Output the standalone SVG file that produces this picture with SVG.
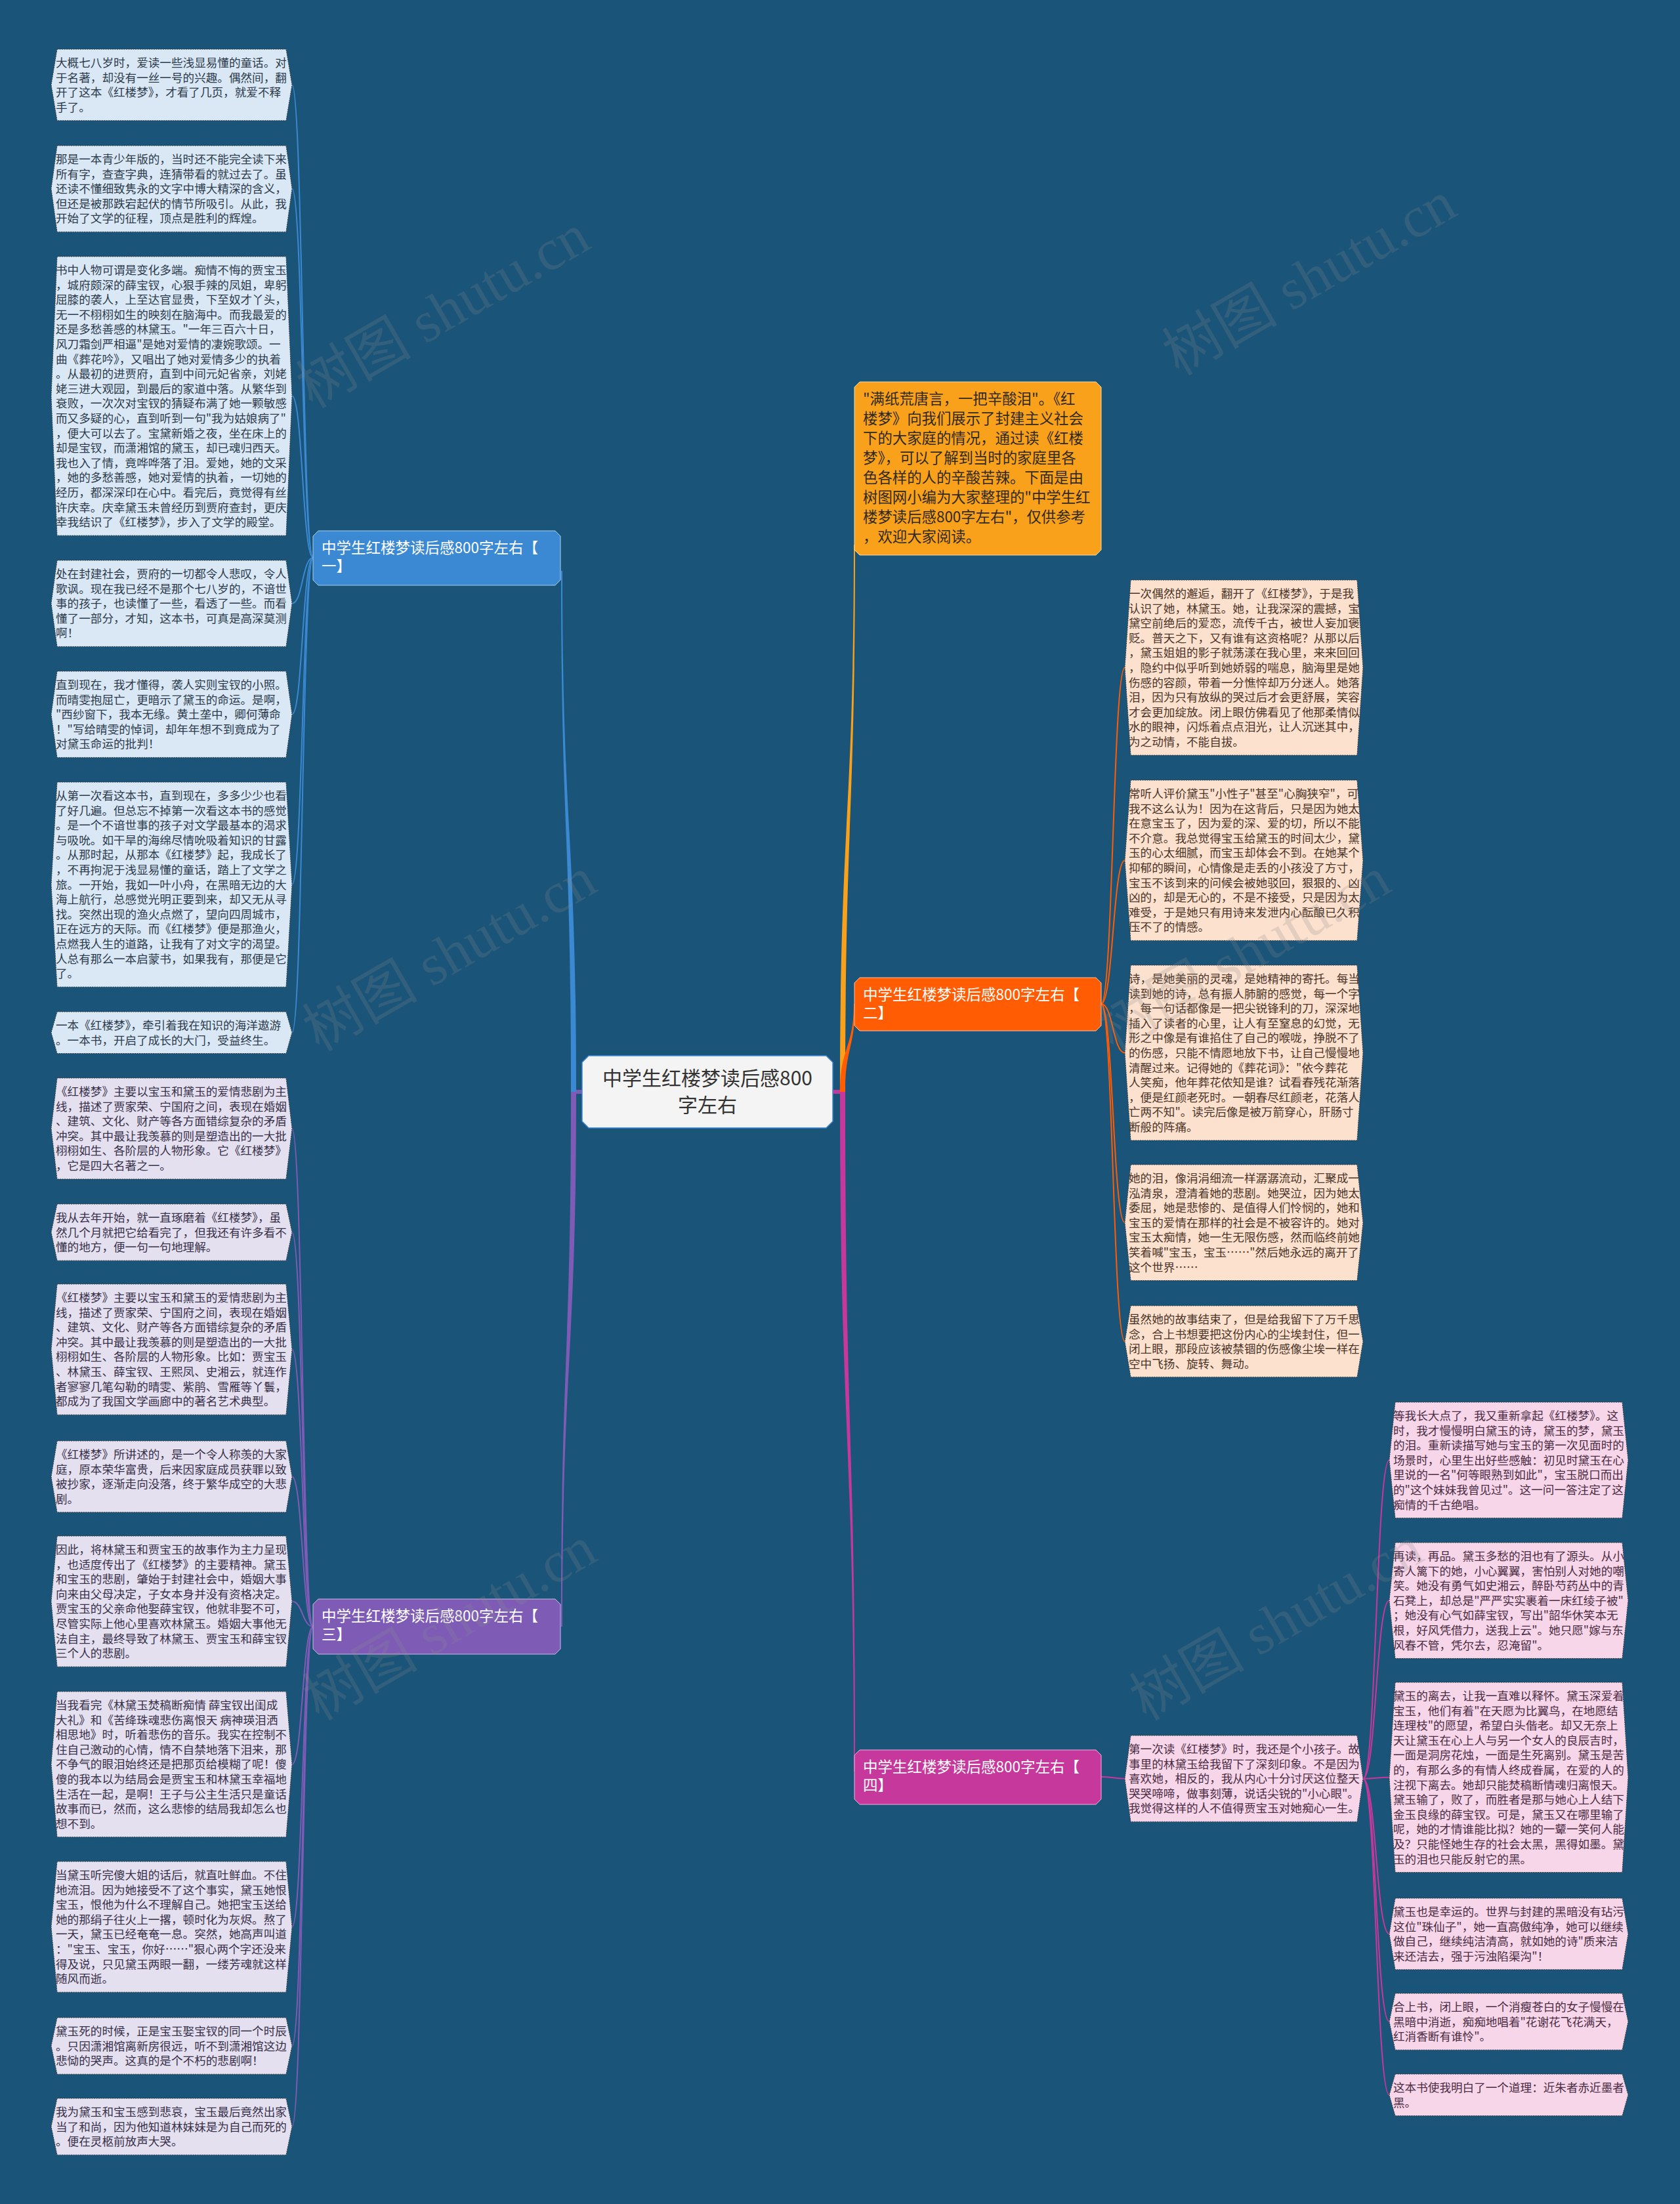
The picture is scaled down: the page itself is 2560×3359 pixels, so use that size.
<svg xmlns="http://www.w3.org/2000/svg" width="2560" height="3359" viewBox="0 0 2560 3359">
<style>
.leaf{stroke:#3a3a3a;stroke-width:1;stroke-dasharray:2 1.5}
.l1{fill:#dae8f6}.l2{fill:#fde1cf}.l3{fill:#e5e0f0}.l4{fill:#f7d6ea}
.tx{font-family:"Noto Sans CJK SC","Noto Sans",sans-serif;font-size:17.6px}
.k1{fill:#2c3b4b}.k2{fill:#4a3528}.k3{fill:#373049}.k4{fill:#4a2c42}
.br{font-family:"Noto Sans CJK SC","Noto Sans",sans-serif;font-size:22.5px;fill:#ffffff}
.thin{fill:none;stroke-width:2}
.wm{font-family:"Liberation Serif","Noto Sans CJK SC",serif;font-size:88px;fill:#8a8a8a;opacity:0.22}
</style>
<rect x="0" y="0" width="2560" height="3359" fill="#1a5478"/>

<g id="connectors">
  <!-- main tapered connectors -->
  <path d="M871,1661 H887 V1667 H871 Z" fill="#7e5cb6"/>
  <path d="M1269,1661 H1286 V1667 H1269 Z" fill="#c6389b"/>
  <path d="M870,1664 C870,1267 855,1267 855,870 L857,870 C857,1267 878,1267 878,1664 Z" fill="#3b89d2"/>
  <path d="M870,1664 C870,2071 855,2071 855,2479 L857,2479 C857,2071 878,2071 878,1664 Z" fill="#7e5cb6"/>
  <path d="M1280,1664 C1280,1247 1301,1247 1301,830 L1303,830 C1303,1247 1288,1247 1288,1664 Z" fill="#f9a11b"/>
  <path d="M1280,1664 C1280,1597 1301,1597 1301,1530 L1303,1530 C1303,1597 1288,1597 1288,1664 Z" fill="#ff5c03"/>
  <path d="M1280,1664 C1280,2182 1301,2182 1301,2700 L1303,2700 C1303,2182 1288,2182 1288,1664 Z" fill="#c6389b"/>
  <!-- branch 1 to leaves -->
  <g class="thin" stroke="#3b89d2">
    <path d="M477,850 C461,850 461,129.4 445,129.4"/>
    <path d="M477,850 C461,850 461,287.7 445,287.7"/>
    <path d="M477,850 C461,850 461,603.6 445,603.6"/>
    <path d="M477,850 C461,850 461,919.7 445,919.7"/>
    <path d="M477,850 C461,850 461,1088.7 445,1088.7"/>
    <path d="M477,850 C461,850 461,1348.1 445,1348.1"/>
    <path d="M477,850 C461,850 461,1573.8 445,1573.8"/>
  </g>
  <!-- branch 3 to leaves -->
  <g class="thin" stroke="#7e5cb6">
    <path d="M477,2479 C461,2479 461,1720 445,1720"/>
    <path d="M477,2479 C461,2479 461,1878.1 445,1878.1"/>
    <path d="M477,2479 C461,2479 461,2056.6 445,2056.6"/>
    <path d="M477,2479 C461,2479 461,2250.4 445,2250.4"/>
    <path d="M477,2479 C461,2479 461,2440.6 445,2440.6"/>
    <path d="M477,2479 C461,2479 461,2688.9 445,2688.9"/>
    <path d="M477,2479 C461,2479 461,2936.6 445,2936.6"/>
    <path d="M477,2479 C461,2479 461,3118.1 445,3118.1"/>
    <path d="M477,2479 C461,2479 461,3241.1 445,3241.1"/>
  </g>
  <!-- branch 2 to leaves -->
  <g class="thin" stroke="#ff5c03">
    <path d="M1678,1530 C1696,1530 1696,1017.5 1714,1017.5"/>
    <path d="M1678,1530 C1696,1530 1696,1311.2 1714,1311.2"/>
    <path d="M1678,1530 C1696,1530 1696,1604.5 1714,1604.5"/>
    <path d="M1678,1530 C1696,1530 1696,1863.3 1714,1863.3"/>
    <path d="M1678,1530 C1696,1530 1696,2044.4 1714,2044.4"/>
  </g>
  <!-- branch 4 -->
  <g class="thin" stroke="#c6389b">
    <path d="M1678,2708 C1696,2708 1696,2710.7 1714,2710.7"/>
    <path d="M2077,2710.7 C2097,2710.7 2097,2225.3 2117,2225.3"/>
    <path d="M2077,2710.7 C2097,2710.7 2097,2439.3 2117,2439.3"/>
    <path d="M2077,2710.7 C2097,2710.7 2097,2708.8 2117,2708.8"/>
    <path d="M2077,2710.7 C2097,2710.7 2097,2947.4 2117,2947.4"/>
    <path d="M2077,2710.7 C2097,2710.7 2097,3081.1 2117,3081.1"/>
    <path d="M2077,2710.7 C2097,2710.7 2097,3192.8 2117,3192.8"/>
  </g>
</g>

<g id="center">
  <path d="M897,1609 H1259 L1269,1619 V1709 L1259,1719 H897 L887,1709 V1619 Z" fill="#f4f4f4" stroke="#3b89d2" stroke-width="1.5"/>
  <text x="1078" y="1654" text-anchor="middle" font-family="Noto Sans CJK SC, sans-serif" font-size="30" fill="#333333">中学生红楼梦读后感800</text>
  <text x="1078" y="1695" text-anchor="middle" font-family="Noto Sans CJK SC, sans-serif" font-size="30" fill="#333333">字左右</text>
</g>

<g id="intro">
  <path d="M1310,582 H1670 L1678,590 V838 L1670,846 H1310 L1302,838 V590 Z" fill="#f9a11b" stroke="#f3d9a8" stroke-width="1"/>
  <text class="tx" style="font-size:22.4px" fill="#2f2a20" x="1315" y="616">
    <tspan x="1315">"满纸荒唐言，一把辛酸泪"。《红</tspan>
    <tspan x="1315" dy="30">楼梦》向我们展示了封建主义社会</tspan>
    <tspan x="1315" dy="30">下的大家庭的情况，通过读《红楼</tspan>
    <tspan x="1315" dy="30">梦》，可以了解到当时的家庭里各</tspan>
    <tspan x="1315" dy="30">色各样的人的辛酸苦辣。下面是由</tspan>
    <tspan x="1315" dy="30">树图网小编为大家整理的"中学生红</tspan>
    <tspan x="1315" dy="30">楼梦读后感800字左右"，仅供参考</tspan>
    <tspan x="1315" dy="30">，欢迎大家阅读。</tspan>
  </text>
</g>

<g id="branch1">
  <path d="M485,809 H846 L854,817 V884 L846,892 H485 L477,884 V817 Z" fill="#3b89d2" stroke="#a9cdf0" stroke-width="1"/>
  <text class="br" x="490" y="843">中学生红楼梦读后感800字左右【</text>
  <text class="br" x="490" y="871">一】</text>
</g>
<g id="branch2">
  <path d="M1310,1490 H1670 L1678,1498 V1563 L1670,1571 H1310 L1302,1563 V1498 Z" fill="#ff5c03" stroke="#ffc09a" stroke-width="1"/>
  <text class="br" x="1315" y="1524">中学生红楼梦读后感800字左右【</text>
  <text class="br" x="1315" y="1552">二】</text>
</g>
<g id="branch3">
  <path d="M485,2437 H846 L854,2445 V2513 L846,2521 H485 L477,2513 V2445 Z" fill="#7e5cb6" stroke="#c9b8e6" stroke-width="1"/>
  <text class="br" x="490" y="2471">中学生红楼梦读后感800字左右【</text>
  <text class="br" x="490" y="2499">三】</text>
</g>
<g id="branch4">
  <path d="M1310,2667 H1670 L1678,2675 V2742 L1670,2750 H1310 L1302,2742 V2675 Z" fill="#c6389b" stroke="#eeb0dc" stroke-width="1"/>
  <text class="br" x="1315" y="2701">中学生红楼梦读后感800字左右【</text>
  <text class="br" x="1315" y="2729">四】</text>
</g>

<!-- Branch 1 leaves -->
<g id="l1-1">
  <polygon class="leaf l1" points="87,75 436,75 445,129.4 436,183.8 87,183.8 78,129.4"/>
  <text class="tx k1" x="85" y="102"><tspan x="85">大概七八岁时，爱读一些浅显易懂的童话。对</tspan><tspan x="85" dy="22.6">于名著，却没有一丝一号的兴趣。偶然间，翻</tspan><tspan x="85" dy="22.6">开了这本《红楼梦》，才看了几页，就爱不释</tspan><tspan x="85" dy="22.6">手了。</tspan></text>
</g>
<g id="l1-2">
  <polygon class="leaf l1" points="87,222 436,222 445,287.7 436,353.4 87,353.4 78,287.7"/>
  <text class="tx k1" x="85" y="249"><tspan x="85">那是一本青少年版的，当时还不能完全读下来</tspan><tspan x="85" dy="22.6">所有字，查查字典，连猜带看的就过去了。虽</tspan><tspan x="85" dy="22.6">还读不懂细致隽永的文字中博大精深的含义，</tspan><tspan x="85" dy="22.6">但还是被那跌宕起伏的情节所吸引。从此，我</tspan><tspan x="85" dy="22.6">开始了文学的征程，顶点是胜利的辉煌。</tspan></text>
</g>
<g id="l1-3">
  <polygon class="leaf l1" points="87,391 436,391 445,603.6 436,816.2 87,816.2 78,603.6"/>
  <text class="tx k1" x="85" y="418"><tspan x="85">书中人物可谓是变化多端。痴情不悔的贾宝玉</tspan><tspan x="85" dy="22.6">，城府颇深的薛宝钗，心狠手辣的凤姐，卑躬</tspan><tspan x="85" dy="22.6">屈膝的袭人，上至达官显贵，下至奴才丫头，</tspan><tspan x="85" dy="22.6">无一不栩栩如生的映刻在脑海中。而我最爱的</tspan><tspan x="85" dy="22.6">还是多愁善感的林黛玉。"一年三百六十日，</tspan><tspan x="85" dy="22.6">风刀霜剑严相逼"是她对爱情的凄婉歌颂。一</tspan><tspan x="85" dy="22.6">曲《葬花吟》，又唱出了她对爱情多少的执着</tspan><tspan x="85" dy="22.6">。从最初的进贾府，直到中间元妃省亲，刘姥</tspan><tspan x="85" dy="22.6">姥三进大观园，到最后的家道中落。从繁华到</tspan><tspan x="85" dy="22.6">衰败，一次次对宝钗的猜疑布满了她一颗敏感</tspan><tspan x="85" dy="22.6">而又多疑的心，直到听到一句"我为姑娘病了"</tspan><tspan x="85" dy="22.6">，便大可以去了。宝黛新婚之夜，坐在床上的</tspan><tspan x="85" dy="22.6">却是宝钗，而潇湘馆的黛玉，却已魂归西天。</tspan><tspan x="85" dy="22.6">我也入了情，竟哗哗落了泪。爱她，她的文采</tspan><tspan x="85" dy="22.6">，她的多愁善感，她对爱情的执着，一切她的</tspan><tspan x="85" dy="22.6">经历，都深深印在心中。看完后，竟觉得有丝</tspan><tspan x="85" dy="22.6">许庆幸。庆幸黛玉未曾经历到贾府查封，更庆</tspan><tspan x="85" dy="22.6">幸我结识了《红楼梦》，步入了文学的殿堂。</tspan></text>
</g>
<g id="l1-4">
  <polygon class="leaf l1" points="87,854 436,854 445,919.7 436,985.4 87,985.4 78,919.7"/>
  <text class="tx k1" x="85" y="881"><tspan x="85">处在封建社会，贾府的一切都令人悲叹，令人</tspan><tspan x="85" dy="22.6">歌讽。现在我已经不是那个七八岁的，不谙世</tspan><tspan x="85" dy="22.6">事的孩子，也读懂了一些，看透了一些。而看</tspan><tspan x="85" dy="22.6">懂了一部分，才知，这本书，可真是高深莫测</tspan><tspan x="85" dy="22.6">啊！</tspan></text>
</g>
<g id="l1-5">
  <polygon class="leaf l1" points="87,1023 436,1023 445,1088.7 436,1154.4 87,1154.4 78,1088.7"/>
  <text class="tx k1" x="85" y="1050"><tspan x="85">直到现在，我才懂得，袭人实则宝钗的小照。</tspan><tspan x="85" dy="22.6">而晴雯抱屈亡，更暗示了黛玉的命运。是啊，</tspan><tspan x="85" dy="22.6">"西纱窗下，我本无缘。黄土垄中，卿何薄命</tspan><tspan x="85" dy="22.6">！"写给晴雯的悼词，却年年想不到竟成为了</tspan><tspan x="85" dy="22.6">对黛玉命运的批判！</tspan></text>
</g>
<g id="l1-6">
  <polygon class="leaf l1" points="87,1192 436,1192 445,1348.1 436,1504.2 87,1504.2 78,1348.1"/>
  <text class="tx k1" x="85" y="1219"><tspan x="85">从第一次看这本书，直到现在，多多少少也看</tspan><tspan x="85" dy="22.6">了好几遍。但总忘不掉第一次看这本书的感觉</tspan><tspan x="85" dy="22.6">。是一个不谙世事的孩子对文学最基本的渴求</tspan><tspan x="85" dy="22.6">与吸吮。如干旱的海绵尽情吮吸着知识的甘露</tspan><tspan x="85" dy="22.6">。从那时起，从那本《红楼梦》起，我成长了</tspan><tspan x="85" dy="22.6">，不再拘泥于浅显易懂的童话，踏上了文学之</tspan><tspan x="85" dy="22.6">旅。一开始，我如一叶小舟，在黑暗无边的大</tspan><tspan x="85" dy="22.6">海上航行，总感觉光明正要到来，却又无从寻</tspan><tspan x="85" dy="22.6">找。突然出现的渔火点燃了，望向四周城市，</tspan><tspan x="85" dy="22.6">正在远方的天际。而《红楼梦》便是那渔火，</tspan><tspan x="85" dy="22.6">点燃我人生的道路，让我有了对文字的渴望。</tspan><tspan x="85" dy="22.6">人总有那么一本启蒙书，如果我有，那便是它</tspan><tspan x="85" dy="22.6">了。</tspan></text>
</g>
<g id="l1-7">
  <polygon class="leaf l1" points="87,1542 436,1542 445,1573.8 436,1605.6 87,1605.6 78,1573.8"/>
  <text class="tx k1" x="85" y="1569"><tspan x="85">一本《红楼梦》，牵引着我在知识的海洋遨游</tspan><tspan x="85" dy="22.6">。一本书，开启了成长的大门，受益终生。</tspan></text>
</g>

<!-- Branch 3 leaves -->
<g id="l3-1">
  <polygon class="leaf l3" points="87,1643 436,1643 445,1720 436,1797 87,1797 78,1720"/>
  <text class="tx k3" x="85" y="1670"><tspan x="85">《红楼梦》主要以宝玉和黛玉的爱情悲剧为主</tspan><tspan x="85" dy="22.6">线，描述了贾家荣、宁国府之间，表现在婚姻</tspan><tspan x="85" dy="22.6">、建筑、文化、财产等各方面错综复杂的矛盾</tspan><tspan x="85" dy="22.6">冲突。其中最让我羡慕的则是塑造出的一大批</tspan><tspan x="85" dy="22.6">栩栩如生、各阶层的人物形象。它《红楼梦》</tspan><tspan x="85" dy="22.6">，它是四大名著之一。</tspan></text>
</g>
<g id="l3-2">
  <polygon class="leaf l3" points="87,1835 436,1835 445,1878.1 436,1921.2 87,1921.2 78,1878.1"/>
  <text class="tx k3" x="85" y="1862"><tspan x="85">我从去年开始，就一直琢磨着《红楼梦》，虽</tspan><tspan x="85" dy="22.6">然几个月就把它给看完了，但我还有许多看不</tspan><tspan x="85" dy="22.6">懂的地方，便一句一句地理解。</tspan></text>
</g>
<g id="l3-3">
  <polygon class="leaf l3" points="87,1957 436,1957 445,2056.6 436,2156.2 87,2156.2 78,2056.6"/>
  <text class="tx k3" x="85" y="1984"><tspan x="85">《红楼梦》主要以宝玉和黛玉的爱情悲剧为主</tspan><tspan x="85" dy="22.6">线，描述了贾家荣、宁国府之间，表现在婚姻</tspan><tspan x="85" dy="22.6">、建筑、文化、财产等各方面错综复杂的矛盾</tspan><tspan x="85" dy="22.6">冲突。其中最让我羡慕的则是塑造出的一大批</tspan><tspan x="85" dy="22.6">栩栩如生、各阶层的人物形象。比如：贾宝玉</tspan><tspan x="85" dy="22.6">、林黛玉、薛宝钗、王熙凤、史湘云，就连作</tspan><tspan x="85" dy="22.6">者寥寥几笔勾勒的晴雯、紫鹃、雪雁等丫鬟，</tspan><tspan x="85" dy="22.6">都成为了我国文学画廊中的著名艺术典型。</tspan></text>
</g>
<g id="l3-4">
  <polygon class="leaf l3" points="87,2196 436,2196 445,2250.4 436,2304.8 87,2304.8 78,2250.4"/>
  <text class="tx k3" x="85" y="2223"><tspan x="85">《红楼梦》所讲述的，是一个令人称羡的大家</tspan><tspan x="85" dy="22.6">庭，原本荣华富贵，后来因家庭成员获罪以致</tspan><tspan x="85" dy="22.6">被抄家，逐渐走向没落，终于繁华成空的大悲</tspan><tspan x="85" dy="22.6">剧。</tspan></text>
</g>
<g id="l3-5">
  <polygon class="leaf l3" points="87,2341 436,2341 445,2440.6 436,2540.2 87,2540.2 78,2440.6"/>
  <text class="tx k3" x="85" y="2368"><tspan x="85">因此，将林黛玉和贾宝玉的故事作为主力呈现</tspan><tspan x="85" dy="22.6">，也适度传出了《红楼梦》的主要精神。黛玉</tspan><tspan x="85" dy="22.6">和宝玉的悲剧，肇始于封建社会中，婚姻大事</tspan><tspan x="85" dy="22.6">向来由父母决定，子女本身并没有资格决定。</tspan><tspan x="85" dy="22.6">贾宝玉的父亲命他娶薛宝钗，他就非娶不可，</tspan><tspan x="85" dy="22.6">尽管实际上他心里喜欢林黛玉。婚姻大事他无</tspan><tspan x="85" dy="22.6">法自主，最终导致了林黛玉、贾宝玉和薛宝钗</tspan><tspan x="85" dy="22.6">三个人的悲剧。</tspan></text>
</g>
<g id="l3-6">
  <polygon class="leaf l3" points="87,2578 436,2578 445,2688.9 436,2799.8 87,2799.8 78,2688.9"/>
  <text class="tx k3" x="85" y="2605"><tspan x="85">当我看完《林黛玉焚稿断痴情 薛宝钗出闺成</tspan><tspan x="85" dy="22.6">大礼》和《苦绛珠魂悲伤离恨天 病神瑛泪洒</tspan><tspan x="85" dy="22.6">相思地》时，听着悲伤的音乐。我实在控制不</tspan><tspan x="85" dy="22.6">住自己激动的心情，情不自禁地落下泪来，那</tspan><tspan x="85" dy="22.6">不争气的眼泪始终还是把那页给模糊了呢！傻</tspan><tspan x="85" dy="22.6">傻的我本以为结局会是贾宝玉和林黛玉幸福地</tspan><tspan x="85" dy="22.6">生活在一起，是啊！王子与公主生活只是童话</tspan><tspan x="85" dy="22.6">故事而已，然而，这么悲惨的结局我却怎么也</tspan><tspan x="85" dy="22.6">想不到。</tspan></text>
</g>
<g id="l3-7">
  <polygon class="leaf l3" points="87,2837 436,2837 445,2936.6 436,3036.2 87,3036.2 78,2936.6"/>
  <text class="tx k3" x="85" y="2864"><tspan x="85">当黛玉听完傻大姐的话后，就直吐鲜血。不住</tspan><tspan x="85" dy="22.6">地流泪。因为她接受不了这个事实，黛玉她恨</tspan><tspan x="85" dy="22.6">宝玉，恨他为什么不理解自己。她把宝玉送给</tspan><tspan x="85" dy="22.6">她的那绢子往火上一撂，顿时化为灰烬。熬了</tspan><tspan x="85" dy="22.6">一天，黛玉已经奄奄一息。突然，她高声叫道</tspan><tspan x="85" dy="22.6">："宝玉、宝玉，你好……"狠心两个字还没来</tspan><tspan x="85" dy="22.6">得及说，只见黛玉两眼一翻，一缕芳魂就这样</tspan><tspan x="85" dy="22.6">随风而逝。</tspan></text>
</g>
<g id="l3-8">
  <polygon class="leaf l3" points="87,3075 436,3075 445,3118.1 436,3161.2 87,3161.2 78,3118.1"/>
  <text class="tx k3" x="85" y="3102"><tspan x="85">黛玉死的时候，正是宝玉娶宝钗的同一个时辰</tspan><tspan x="85" dy="22.6">。只因潇湘馆离新房很远，听不到潇湘馆这边</tspan><tspan x="85" dy="22.6">悲恸的哭声。这真的是个不朽的悲剧啊！</tspan></text>
</g>
<g id="l3-9">
  <polygon class="leaf l3" points="87,3198 436,3198 445,3241.1 436,3284.2 87,3284.2 78,3241.1"/>
  <text class="tx k3" x="85" y="3225"><tspan x="85">我为黛玉和宝玉感到悲哀，宝玉最后竟然出家</tspan><tspan x="85" dy="22.6">当了和尚，因为他知道林妹妹是为自己而死的</tspan><tspan x="85" dy="22.6">。便在灵柩前放声大哭。</tspan></text>
</g>

<!-- Branch 2 leaves -->
<g id="l2-1">
  <polygon class="leaf l2" points="1723,884 2068,884 2077,1017.5 2068,1151 1723,1151 1714,1017.5"/>
  <text class="tx k2" x="1720" y="911"><tspan x="1720">一次偶然的邂逅，翻开了《红楼梦》，于是我</tspan><tspan x="1720" dy="22.6">认识了她，林黛玉。她，让我深深的震撼，宝</tspan><tspan x="1720" dy="22.6">黛空前绝后的爱恋，流传千古，被世人妄加褒</tspan><tspan x="1720" dy="22.6">贬。普天之下，又有谁有这资格呢？从那以后</tspan><tspan x="1720" dy="22.6">，黛玉姐姐的影子就荡漾在我心里，来来回回</tspan><tspan x="1720" dy="22.6">，隐约中似乎听到她娇弱的喘息，脑海里是她</tspan><tspan x="1720" dy="22.6">伤感的容颜，带着一分憔悴却万分迷人。她落</tspan><tspan x="1720" dy="22.6">泪，因为只有放纵的哭过后才会更舒展，笑容</tspan><tspan x="1720" dy="22.6">才会更加绽放。闭上眼仿佛看见了他那柔情似</tspan><tspan x="1720" dy="22.6">水的眼神，闪烁着点点泪光，让人沉迷其中，</tspan><tspan x="1720" dy="22.6">为之动情，不能自拔。</tspan></text>
</g>
<g id="l2-2">
  <polygon class="leaf l2" points="1723,1189 2068,1189 2077,1311.2 2068,1433.4 1723,1433.4 1714,1311.2"/>
  <text class="tx k2" x="1720" y="1216"><tspan x="1720">常听人评价黛玉"小性子"甚至"心胸狭窄"，可</tspan><tspan x="1720" dy="22.6">我不这么认为！因为在这背后，只是因为她太</tspan><tspan x="1720" dy="22.6">在意宝玉了，因为爱的深、爱的切，所以不能</tspan><tspan x="1720" dy="22.6">不介意。我总觉得宝玉给黛玉的时间太少，黛</tspan><tspan x="1720" dy="22.6">玉的心太细腻，而宝玉却体会不到。在她某个</tspan><tspan x="1720" dy="22.6">抑郁的瞬间，心情像是走丢的小孩没了方寸，</tspan><tspan x="1720" dy="22.6">宝玉不该到来的问候会被她驳回，狠狠的、凶</tspan><tspan x="1720" dy="22.6">凶的，却是无心的，不是不接受，只是因为太</tspan><tspan x="1720" dy="22.6">难受，于是她只有用诗来发泄内心酝酿已久积</tspan><tspan x="1720" dy="22.6">压不了的情感。</tspan></text>
</g>
<g id="l2-3">
  <polygon class="leaf l2" points="1723,1471 2068,1471 2077,1604.5 2068,1738 1723,1738 1714,1604.5"/>
  <text class="tx k2" x="1720" y="1498"><tspan x="1720">诗，是她美丽的灵魂，是她精神的寄托。每当</tspan><tspan x="1720" dy="22.6">读到她的诗，总有振人肺腑的感觉，每一个字</tspan><tspan x="1720" dy="22.6">，每一句话都像是一把尖锐锋利的刀，深深地</tspan><tspan x="1720" dy="22.6">插入了读者的心里，让人有至窒息的幻觉，无</tspan><tspan x="1720" dy="22.6">形之中像是有谁掐住了自己的喉咙，挣脱不了</tspan><tspan x="1720" dy="22.6">的伤感，只能不情愿地放下书，让自己慢慢地</tspan><tspan x="1720" dy="22.6">清醒过来。记得她的《葬花词》："依今葬花</tspan><tspan x="1720" dy="22.6">人笑痴，他年葬花侬知是谁？试看春残花渐落</tspan><tspan x="1720" dy="22.6">，便是红颜老死时。一朝春尽红颜老，花落人</tspan><tspan x="1720" dy="22.6">亡两不知"。读完后像是被万箭穿心，肝肠寸</tspan><tspan x="1720" dy="22.6">断般的阵痛。</tspan></text>
</g>
<g id="l2-4">
  <polygon class="leaf l2" points="1723,1775 2068,1775 2077,1863.3 2068,1951.6 1723,1951.6 1714,1863.3"/>
  <text class="tx k2" x="1720" y="1802"><tspan x="1720">她的泪，像涓涓细流一样潺潺流动，汇聚成一</tspan><tspan x="1720" dy="22.6">泓清泉，澄清着她的悲剧。她哭泣，因为她太</tspan><tspan x="1720" dy="22.6">委屈，她是悲惨的、是值得人们怜悯的，她和</tspan><tspan x="1720" dy="22.6">宝玉的爱情在那样的社会是不被容许的。她对</tspan><tspan x="1720" dy="22.6">宝玉太痴情，她一生无限伤感，然而临终前她</tspan><tspan x="1720" dy="22.6">笑着喊"宝玉，宝玉……"然后她永远的离开了</tspan><tspan x="1720" dy="22.6">这个世界……</tspan></text>
</g>
<g id="l2-5">
  <polygon class="leaf l2" points="1723,1990 2068,1990 2077,2044.4 2068,2098.8 1723,2098.8 1714,2044.4"/>
  <text class="tx k2" x="1720" y="2017"><tspan x="1720">虽然她的故事结束了，但是给我留下了万千思</tspan><tspan x="1720" dy="22.6">念，合上书想要把这份内心的尘埃封住，但一</tspan><tspan x="1720" dy="22.6">闭上眼，那段应该被禁锢的伤感像尘埃一样在</tspan><tspan x="1720" dy="22.6">空中飞扬、旋转、舞动。</tspan></text>
</g>

<!-- Branch 4 -->
<g id="p4-0">
  <polygon class="leaf l4" points="1723,2645 2068,2645 2077,2710.7 2068,2776.4 1723,2776.4 1714,2710.7"/>
  <text class="tx k4" x="1720" y="2672"><tspan x="1720">第一次读《红楼梦》时，我还是个小孩子。故</tspan><tspan x="1720" dy="22.6">事里的林黛玉给我留下了深刻印象。不是因为</tspan><tspan x="1720" dy="22.6">喜欢她，相反的，我从内心十分讨厌这位整天</tspan><tspan x="1720" dy="22.6">哭哭啼啼，做事刻薄，说话尖锐的"小心眼"。</tspan><tspan x="1720" dy="22.6">我觉得这样的人不值得贾宝玉对她痴心一生。</tspan></text>
</g>
<g id="l4-1">
  <polygon class="leaf l4" points="2126,2137 2472,2137 2481,2225.3 2472,2313.6 2126,2313.6 2117,2225.3"/>
  <text class="tx k4" x="2123" y="2164"><tspan x="2123">等我长大点了，我又重新拿起《红楼梦》。这</tspan><tspan x="2123" dy="22.6">时，我才慢慢明白黛玉的诗，黛玉的梦，黛玉</tspan><tspan x="2123" dy="22.6">的泪。重新读描写她与宝玉的第一次见面时的</tspan><tspan x="2123" dy="22.6">场景时，心里生出好些感触：初见时黛玉在心</tspan><tspan x="2123" dy="22.6">里说的一名"何等眼熟到如此"，宝玉脱口而出</tspan><tspan x="2123" dy="22.6">的"这个妹妹我曾见过"。这一问一答注定了这</tspan><tspan x="2123" dy="22.6">痴情的千古绝唱。</tspan></text>
</g>
<g id="l4-2">
  <polygon class="leaf l4" points="2126,2351 2472,2351 2481,2439.3 2472,2527.6 2126,2527.6 2117,2439.3"/>
  <text class="tx k4" x="2123" y="2378"><tspan x="2123">再读，再品。黛玉多愁的泪也有了源头。从小</tspan><tspan x="2123" dy="22.6">寄人篱下的她，小心翼翼，害怕别人对她的嘲</tspan><tspan x="2123" dy="22.6">笑。她没有勇气如史湘云，醉卧芍药丛中的青</tspan><tspan x="2123" dy="22.6">石凳上，却总是"严严实实裹着一床红绫子被"</tspan><tspan x="2123" dy="22.6">；她没有心气如薛宝钗，写出"韶华休笑本无</tspan><tspan x="2123" dy="22.6">根，好风凭借力，送我上云"。她只愿"嫁与东</tspan><tspan x="2123" dy="22.6">风春不管，凭尔去，忍淹留"。</tspan></text>
</g>
<g id="l4-3">
  <polygon class="leaf l4" points="2126,2564 2472,2564 2481,2708.8 2472,2853.6 2126,2853.6 2117,2708.8"/>
  <text class="tx k4" x="2123" y="2591"><tspan x="2123">黛玉的离去，让我一直难以释怀。黛玉深爱着</tspan><tspan x="2123" dy="22.6">宝玉，他们有着"在天愿为比翼鸟，在地愿结</tspan><tspan x="2123" dy="22.6">连理枝"的愿望，希望白头偕老。却又无奈上</tspan><tspan x="2123" dy="22.6">天让黛玉在心上人与另一个女人的良辰吉时，</tspan><tspan x="2123" dy="22.6">一面是洞房花烛，一面是生死离别。黛玉是苦</tspan><tspan x="2123" dy="22.6">的，有那么多的有情人终成眷属，在爱的人的</tspan><tspan x="2123" dy="22.6">注视下离去。她却只能焚稿断情魂归离恨天。</tspan><tspan x="2123" dy="22.6">黛玉输了，败了，而胜者是那与她心上人结下</tspan><tspan x="2123" dy="22.6">金玉良缘的薛宝钗。可是，黛玉又在哪里输了</tspan><tspan x="2123" dy="22.6">呢，她的才情谁能比拟？她的一颦一笑何人能</tspan><tspan x="2123" dy="22.6">及？只能怪她生存的社会太黑，黑得如墨。黛</tspan><tspan x="2123" dy="22.6">玉的泪也只能反射它的黑。</tspan></text>
</g>
<g id="l4-4">
  <polygon class="leaf l4" points="2126,2893 2472,2893 2481,2947.4 2472,3001.8 2126,3001.8 2117,2947.4"/>
  <text class="tx k4" x="2123" y="2920"><tspan x="2123">黛玉也是幸运的。世界与封建的黑暗没有玷污</tspan><tspan x="2123" dy="22.6">这位"珠仙子"，她一直高傲纯净，她可以继续</tspan><tspan x="2123" dy="22.6">做自己，继续纯洁清高，就如她的诗"质来洁</tspan><tspan x="2123" dy="22.6">来还洁去，强于污浊陷渠沟"！</tspan></text>
</g>
<g id="l4-5">
  <polygon class="leaf l4" points="2126,3038 2472,3038 2481,3081.1 2472,3124.2 2126,3124.2 2117,3081.1"/>
  <text class="tx k4" x="2123" y="3065"><tspan x="2123">合上书，闭上眼，一个消瘦苍白的女子慢慢在</tspan><tspan x="2123" dy="22.6">黑暗中消逝，痴痴地唱着"花谢花飞花满天，</tspan><tspan x="2123" dy="22.6">红消香断有谁怜"。</tspan></text>
</g>
<g id="l4-6">
  <polygon class="leaf l4" points="2126,3161 2472,3161 2481,3192.8 2472,3224.6 2126,3224.6 2117,3192.8"/>
  <text class="tx k4" x="2123" y="3188"><tspan x="2123">这本书使我明白了一个道理：近朱者赤近墨者</tspan><tspan x="2123" dy="22.6">黑。</tspan></text>
</g>

<g id="watermarks">
  <text class="wm" x="690" y="500" text-anchor="middle" transform="rotate(-30 690 500)">树图 shutu.cn</text>
  <text class="wm" x="700" y="1480" text-anchor="middle" transform="rotate(-30 700 1480)">树图 shutu.cn</text>
  <text class="wm" x="700" y="2500" text-anchor="middle" transform="rotate(-30 700 2500)">树图 shutu.cn</text>
  <text class="wm" x="2010" y="450" text-anchor="middle" transform="rotate(-30 2010 450)">树图 shutu.cn</text>
  <text class="wm" x="1910" y="1480" text-anchor="middle" transform="rotate(-30 1910 1480)">树图 shutu.cn</text>
  <text class="wm" x="1960" y="2500" text-anchor="middle" transform="rotate(-30 1960 2500)">树图 shutu.cn</text>
</g>
</svg>
